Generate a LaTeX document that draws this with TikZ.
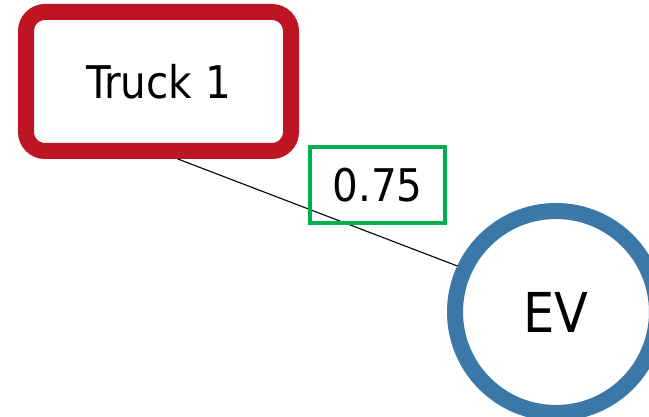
\documentclass[tikz,border=0pt]{standalone}
\usepackage{fontspec}
\setmainfont{DejaVu Sans Condensed}
\definecolor{truckred}{RGB}{190,21,37}
\definecolor{evblue}{RGB}{59,119,167}
\definecolor{lblgreen}{RGB}{0,176,80}
\begin{document}
\begin{tikzpicture}[x=1pt,y=-1pt,
  truckbox/.style={draw=truckred,line width=16pt,rounded corners=19pt,minimum width=265pt,minimum height=139pt,outer sep=8pt,font=\fontsize{45}{50}\selectfont},
  evnode/.style={circle,draw=evblue,line width=16pt,minimum size=202pt,outer sep=8pt,font=\fontsize{55}{60}\selectfont},
  weightbox/.style={draw=lblgreen,line width=4pt,minimum width=135pt,minimum height=76pt,font=\fontsize{45}{50}\selectfont},
  link/.style={draw=black,line width=1.1pt}]
\useasboundingbox (0,0) rectangle (649,417);
\node[truckbox] (t) at (158.5,81.5) {Truck 1};
\node[evnode] (ev) at (556,312) {EV};
\draw[link] (t.-76) -- (ev.155);
\node[weightbox] (w) at (377.5,185) {0.75};
\end{tikzpicture}
\end{document}
